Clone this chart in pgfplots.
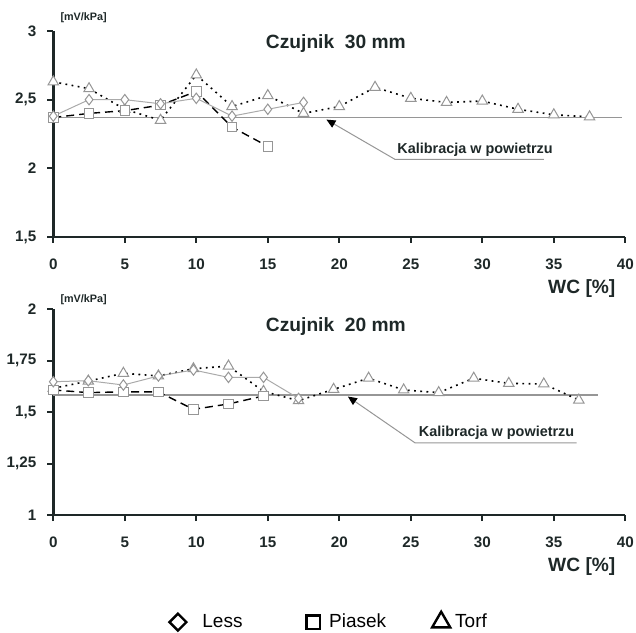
\documentclass[border=0pt]{standalone}
\usepackage{fontspec}
\setmainfont{Liberation Sans}
\usepackage{pgfplots}
\pgfplotsset{compat=1.18}
\usetikzlibrary{arrows.meta}
\definecolor{axdark}{RGB}{30,40,40}
\definecolor{mgray}{RGB}{150,150,150}
\definecolor{lgray}{RGB}{170,170,170}

\tikzset{
  lbl/.style={font=\fontsize{7.2}{8}\selectfont\bfseries, text=axdark},
  ttl/.style={font=\fontsize{9.6}{10}\selectfont\bfseries, text=axdark},
}

\pgfplotsset{
  czujnik/.style={
    scale only axis, width=286pt, height=103pt,
    axis x line*=bottom, axis y line*=left,
    axis line style={axdark, line width=1.3pt, -},
    tick style={axdark, line width=1pt},
    tick align=outside, major tick length=3pt,
    xmin=0, xmax=40, xtick={0,5,...,40},
    xticklabels={0,5,10,15,20,25,30,35,40},
    ticklabel style={font=\fontsize{7.6}{8}\selectfont\bfseries, text=axdark},
    xticklabel style={yshift=-4.5pt},
    yticklabel style={xshift=-2pt},
    clip=false,
  },
  less/.style={lgray, line width=0.5pt, mark=diamond*, mark size=2.6pt,
    mark options={draw=mgray, fill=white, solid, line width=0.5pt}},
  piasek/.style={black, line width=0.7pt, dash pattern=on 4pt off 2.5pt, mark=square*, mark size=2.4pt,
    mark options={draw=mgray, fill=white, solid, line width=0.5pt}},
  torf/.style={black, line width=0.8pt, dash pattern=on 0.9pt off 2.2pt, mark=triangle*, mark size=3pt,
    mark options={draw=mgray, fill=white, solid, line width=0.5pt}},
  kal/.style={mgray, line width=0.6pt},
}

\begin{document}
\begin{tikzpicture}
\path[use as bounding box] (0,0) rectangle (318pt,316pt);

% top chart: 30 mm
\begin{axis}[czujnik, at={(26.65pt,197.5pt)}, anchor=south west,
  ymin=1.5, ymax=3, ytick={1.5,2,2.5,3}, yticklabels={{1,5},{2},{2,5},{3}}]
\addplot[kal] coordinates {(0,2.37)(39.8,2.37)};
\addplot[torf] coordinates {(0,2.63)(2.5,2.58)(5,2.43)(7.5,2.35)(10,2.68)(12.5,2.45)(15,2.53)(17.5,2.40)(20,2.45)(22.5,2.59)(25,2.51)(27.5,2.48)(30,2.49)(32.5,2.43)(35,2.39)(37.5,2.375)};
\addplot[piasek] coordinates {(0,2.37)(2.5,2.40)(5,2.42)(7.5,2.46)(10,2.56)(12.5,2.30)(15,2.16)};
\addplot[less] coordinates {(0,2.38)(2.5,2.50)(5,2.50)(7.5,2.47)(10,2.51)(12.5,2.38)(15,2.43)(17.5,2.48)};
\draw[mgray, line width=0.5pt, -{Triangle[black, length=4.5pt, width=4pt]}]
  (axis cs:34.3,2.065) -- (axis cs:23.9,2.065) -- (axis cs:19.1,2.355);
\node[lbl, anchor=south west, inner sep=1pt] at (axis cs:23.9,2.07) {Kalibracja w powietrzu};
\node[ttl] at (rel axis cs:0.494,0.937) {Czujnik~~30~mm};
\node[font=\fontsize{5.4}{6}\selectfont\bfseries, text=axdark] at (rel axis cs:0.053,1.065) {[mV/kPa]};
\node[ttl, anchor=east] at (rel axis cs:0.995,-0.248) {WC [\%]};
\end{axis}

% bottom chart: 20 mm
\begin{axis}[czujnik, at={(26.65pt,58.5pt)}, anchor=south west,
  ymin=1, ymax=2, ytick={1,1.25,1.5,1.75,2}, yticklabels={{1},{1,25},{1,5},{1,75},{2}},
  legend style={draw=none, fill=none, at={(rel axis cs:0.484,-0.52)}, anchor=center,
    legend columns=3, font=\fontsize{9.5}{10}\selectfont, text=black,
    /tikz/column 1/.style={column sep=6pt},
    /tikz/column 2/.style={column sep=30pt},
    /tikz/column 3/.style={column sep=2.5pt},
    /tikz/column 4/.style={column sep=21pt},
    /tikz/column 5/.style={column sep=0.5pt}}]
\addlegendimage{only marks, mark=square, mark size=3pt, black, line width=1.2pt, mark options={rotate=45}}
\addlegendimage{only marks, mark=square, mark size=3.4pt, black, line width=1.2pt}
\addlegendimage{only marks, mark=triangle, mark size=5.2pt, black, line width=1.2pt}
\addplot[kal] coordinates {(0,1.583)(38.1,1.583)};
\addplot[torf] coordinates {(0,1.615)(2.45,1.65)(4.9,1.688)(7.35,1.675)(9.8,1.71)(12.25,1.723)(14.7,1.60)(17.15,1.555)(19.6,1.61)(22.05,1.664)(24.5,1.607)(26.95,1.594)(29.4,1.664)(31.85,1.639)(34.3,1.636)(36.75,1.558)};
\addplot[piasek] coordinates {(0,1.607)(2.45,1.594)(4.9,1.598)(7.35,1.598)(9.8,1.513)(12.25,1.539)(14.7,1.578)};
\addplot[less] coordinates {(0,1.647)(2.45,1.652)(4.9,1.631)(7.35,1.675)(9.8,1.704)(12.25,1.668)(14.7,1.668)(17.15,1.566)};
\legend{Less, Piasek, Torf}
\draw[mgray, line width=0.5pt, -{Triangle[black, length=4.5pt, width=4pt]}]
  (axis cs:36.6,1.35) -- (axis cs:25.3,1.35) -- (axis cs:20.6,1.575);
\node[lbl, anchor=south west, inner sep=1pt] at (axis cs:25.4,1.355) {Kalibracja w powietrzu};
\node[ttl] at (rel axis cs:0.494,0.917) {Czujnik~~20~mm};
\node[font=\fontsize{5.4}{6}\selectfont\bfseries, text=axdark] at (rel axis cs:0.053,1.045) {[mV/kPa]};
\node[ttl, anchor=east] at (rel axis cs:0.995,-0.248) {WC [\%]};
\end{axis}
\end{tikzpicture}
\end{document}
